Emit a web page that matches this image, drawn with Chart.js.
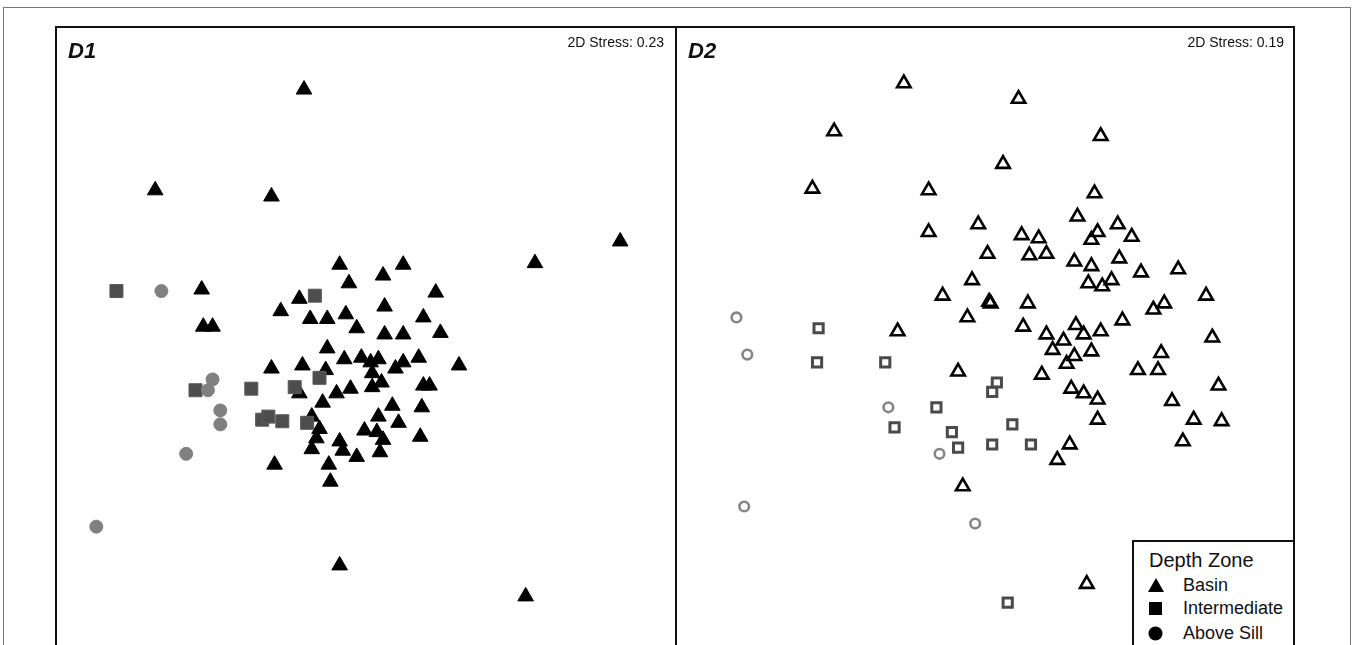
<!DOCTYPE html>
<html>
<head>
<meta charset="utf-8">
<title>NMDS ordination by depth zone</title>
<script src="https://cdn.jsdelivr.net/npm/chart.js@4.4.1/dist/chart.umd.min.js"></script>
<style>
  html, body { margin: 0; padding: 0; background: #fff; }
  body { width: 1355px; height: 645px; overflow: hidden; position: relative;
         font-family: "Liberation Sans", Arial, sans-serif; color: #111; }
  .outer { position: absolute; left: 3px; top: 7px; width: 1348px; height: 720px;
           border: 1.5px solid #777; box-sizing: border-box; }
  canvas.panel { position: absolute; top: 26px; }
  .frame { position: absolute; left: 55px; top: 26px; width: 1240px; height: 720px;
           border: 2px solid #111; box-sizing: border-box; pointer-events: none; z-index: 2; }
  .divider { position: absolute; left: 675px; top: 26px; width: 2px; height: 720px;
             background: #111; z-index: 2; }
  .tag { position: absolute; top: 40px; font-size: 22px; line-height: 22px;
         font-weight: bold; font-style: italic; z-index: 3; }
  .stress { position: absolute; top: 35px; font-size: 14px; line-height: 14px;
            text-align: right; width: 160px; z-index: 3; }
  .legend { position: absolute; left: 1132px; top: 540px; width: 163px; height: 140px;
            border: 2px solid #111; box-sizing: border-box; background: #fff; z-index: 3; }
  .legend .title { position: absolute; left: 15px; top: 7px; font-size: 20px; line-height: 22px; }
  .legend .row { position: absolute; left: 0; height: 22px; }
  .legend .row svg { position: absolute; left: 14px; top: 3px; }
  .legend .row span { position: absolute; left: 49px; top: 0; font-size: 18px; line-height: 22px;
                      white-space: nowrap; }
</style>
</head>
<body>
<div class="outer"></div>
<canvas id="d1" class="panel" width="620" height="620" style="left:56px"></canvas>
<canvas id="d2" class="panel" width="620" height="620" style="left:676px"></canvas>
<div class="frame"></div>
<div class="divider"></div>

<div class="tag" style="left:68px">D1</div>
<div class="stress" style="left:504px">2D Stress: 0.23</div>
<div class="tag" style="left:688px">D2</div>
<div class="stress" style="left:1124px">2D Stress: 0.19</div>

<div class="legend">
  <div class="title">Depth Zone</div>
  <div class="row" style="top:32px">
    <svg width="18" height="16"><polygon points="8,1 16,15 0,15" fill="#000"/></svg>
    <span>Basin</span>
  </div>
  <div class="row" style="top:55px">
    <svg width="18" height="16"><rect x="1" y="2" width="13" height="13" fill="#000"/></svg>
    <span>Intermediate</span>
  </div>
  <div class="row" style="top:80px">
    <svg width="18" height="16"><circle cx="7.5" cy="8.5" r="7" fill="#000"/></svg>
    <span>Above Sill</span>
  </div>
</div>

<script>
// NMDS site scores, panel D1
const d1BasinX = [-0.40,-1.36,-0.61,1.64,1.09,-1.06,-1.05,-0.99,-0.17,0.24,0.11,-0.11,0.45,-0.43,-0.55,-0.36,-0.25,-0.13,0.12,0.37,-0.06,0.12,0.24,0.48,-0.25,-0.61,-0.41,-0.26,-0.14,-0.03,0.03,0.08,0.04,0.10,0.19,0.24,0.34,0.60,0.04,0.37,0.41,-0.19,-0.10,-0.43,-0.28,0.17,0.36,0.08,0.21,-0.35,-0.30,-0.32,-0.01,0.07,0.11,-0.17,-0.15,-0.35,-0.06,0.09,0.35,-0.59,-0.24,-0.23,-0.17,1.03];
const d1BasinY = [1.59,0.94,0.90,0.61,0.47,0.30,0.06,0.06,0.46,0.46,0.39,0.34,0.28,0.24,0.16,0.11,0.11,0.14,0.19,0.12,0.05,0.01,0.01,0.02,-0.08,-0.21,-0.19,-0.22,-0.15,-0.14,-0.17,-0.15,-0.24,-0.30,-0.21,-0.17,-0.14,-0.19,-0.33,-0.32,-0.32,-0.37,-0.34,-0.37,-0.43,-0.45,-0.46,-0.52,-0.56,-0.52,-0.60,-0.66,-0.61,-0.62,-0.67,-0.68,-0.74,-0.73,-0.78,-0.75,-0.65,-0.83,-0.83,-0.94,-1.48,-1.68];
const d1InterX = [-1.61,-0.33,-1.10,-0.74,-0.46,-0.30,-0.67,-0.63,-0.54,-0.38];
const d1InterY = [0.29,0.26,-0.35,-0.34,-0.33,-0.27,-0.54,-0.52,-0.55,-0.56];
const d1SillX = [-1.32,-0.99,-1.02,-0.94,-0.94,-1.16,-1.74];
const d1SillY = [0.29,-0.28,-0.35,-0.48,-0.57,-0.76,-1.23];

// NMDS site scores, panel D2
const d2BasinX = [-0.53,-0.98,-1.12,-0.37,-0.37,0.21,0.74,0.11,0.70,0.59,0.85,-0.05,0.23,0.34,0.72,0.68,0.94,0.01,0.28,0.39,0.57,0.68,0.86,1.00,1.24,-0.09,0.66,0.75,0.81,-0.28,0.02,0.03,0.27,1.42,1.08,1.15,-0.12,-0.57,0.24,0.39,0.58,0.50,0.63,0.74,0.88,1.46,0.43,0.57,0.68,0.52,1.13,0.98,1.11,-0.18,0.36,1.50,0.55,0.63,0.72,1.20,0.72,1.34,1.52,0.54,1.27,0.46,-0.15,0.65];
const d2BasinY = [1.63,1.32,0.95,0.94,0.67,1.53,1.29,1.11,0.92,0.77,0.72,0.72,0.65,0.63,0.67,0.62,0.64,0.53,0.52,0.53,0.48,0.45,0.50,0.41,0.43,0.36,0.34,0.32,0.36,0.26,0.22,0.21,0.21,0.26,0.17,0.21,0.12,0.03,0.06,0.01,0.07,-0.03,0.01,0.03,0.10,-0.01,-0.09,-0.13,-0.10,-0.18,-0.11,-0.22,-0.22,-0.23,-0.25,-0.32,-0.34,-0.37,-0.41,-0.42,-0.54,-0.54,-0.55,-0.70,-0.68,-0.80,-0.97,-1.60];
const d2InterX = [-1.08,-1.09,-0.65,0.07,0.04,-0.32,-0.59,-0.22,0.17,-0.18,0.04,0.29,0.14];
const d2InterY = [0.05,-0.17,-0.17,-0.30,-0.36,-0.46,-0.59,-0.62,-0.57,-0.72,-0.70,-0.70,-1.72];
const d2SillX = [-1.61,-1.54,-0.63,-0.30,-1.56,-0.07];
const d2SillY = [0.12,-0.12,-0.46,-0.76,-1.10,-1.21];

const zip = (xs, ys) => xs.map((x, i) => ({ x, y: ys[i] }));

// filled symbols for D1, open symbols for D2
const styles = {
  filled: {
    basin: { pointStyle: 'triangle', pointRadius: 9, pointBackgroundColor: '#000', pointBorderColor: '#000', pointBorderWidth: 1 },
    inter: { pointStyle: 'rect', pointRadius: 9.2, pointBackgroundColor: '#4d4d4d', pointBorderColor: '#5c5c5c', pointBorderWidth: 1 },
    sill:  { pointStyle: 'circle', pointRadius: 6.5, pointBackgroundColor: '#808080', pointBorderColor: '#808080', pointBorderWidth: 1 }
  },
  open: {
    basin: { pointStyle: 'triangle', pointRadius: 7.8, pointBackgroundColor: 'rgba(0,0,0,0)', pointBorderColor: '#000', pointBorderWidth: 2.6 },
    inter: { pointStyle: 'rect', pointRadius: 6.5, pointBackgroundColor: 'rgba(0,0,0,0)', pointBorderColor: '#4a4a4a', pointBorderWidth: 3 },
    sill:  { pointStyle: 'circle', pointRadius: 4.8, pointBackgroundColor: 'rgba(0,0,0,0)', pointBorderColor: '#858585', pointBorderWidth: 2.6 }
  }
};

function makePanel(id, series, look) {
  const s = styles[look];
  return new Chart(document.getElementById(id), {
    type: 'scatter',
    data: {
      datasets: [
        Object.assign({ label: 'Basin', data: zip(series.basin[0], series.basin[1]), order: 3 }, s.basin),
        Object.assign({ label: 'Intermediate', data: zip(series.inter[0], series.inter[1]), order: 2 }, s.inter),
        Object.assign({ label: 'Above Sill', data: zip(series.sill[0], series.sill[1]), order: 1 }, s.sill)
      ]
    },
    options: {
      responsive: false,
      animation: false,
      layout: { padding: 0, autoPadding: false },
      plugins: { legend: { display: false }, tooltip: { enabled: false } },
      scales: {
        x: { type: 'linear', min: -2, max: 2, display: false },
        y: { type: 'linear', min: -2, max: 2, display: false }
      }
    }
  });
}

makePanel('d1', { basin: [d1BasinX, d1BasinY], inter: [d1InterX, d1InterY], sill: [d1SillX, d1SillY] }, 'filled');
makePanel('d2', { basin: [d2BasinX, d2BasinY], inter: [d2InterX, d2InterY], sill: [d2SillX, d2SillY] }, 'open');
</script>
</body>
</html>
